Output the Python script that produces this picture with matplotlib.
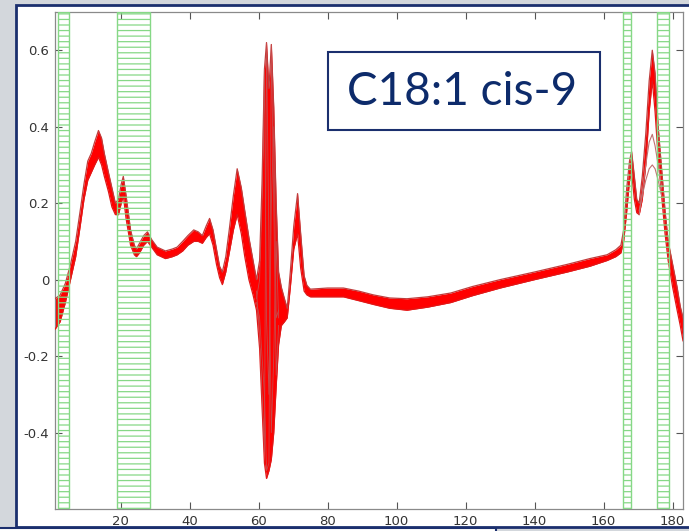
import matplotlib.pyplot as plt
from matplotlib.patches import Rectangle

# spectral bundle: lower / upper edge per variable index
x_pts = [1, 2.5, 4, 5.5, 7, 8.3, 9.4, 10.5, 11.5, 12.5, 13.6, 14.5, 15.3, 16.5, 17.5,
         18.5, 19.4, 20.2, 20.8, 21.6, 22.9, 24.0, 24.6, 25.5, 26.7, 27.8, 29, 30.6,
         33, 35, 36.4, 38, 39.5, 41.2, 42.5, 43.7, 44.8, 45.8, 46.8, 47.8, 48.7, 49.5,
         50.5, 51.5, 52.7, 53.8, 55, 56, 57.2, 58.4, 59.4, 60.3, 61, 61.7, 62.3, 63,
         63.7, 64.4, 65.1, 65.8, 66.6, 67.5, 68.3, 69.2, 70.2, 71.3, 72.2, 73.2, 74,
         75, 80, 84.6, 89, 93.3, 98, 103, 109, 115.7, 122, 130, 140, 149.5, 156, 161,
         163.5, 165, 165.8, 166.7, 167.5, 168.1, 168.9, 169.6, 170.3, 171.2, 172.2,
         173.2, 174.1, 174.9, 175.8, 176.8, 177.8, 178.7, 180, 181.3, 182.2, 183]
y_low = [-0.13, -0.11, -0.06, 0.0, 0.06, 0.14, 0.21, 0.26, 0.28, 0.30, 0.32, 0.30,
         0.27, 0.23, 0.19, 0.17, 0.17, 0.20, 0.22, 0.16, 0.09, 0.065, 0.06, 0.07,
         0.09, 0.10, 0.085, 0.065, 0.055, 0.06, 0.065, 0.075, 0.09, 0.10, 0.10,
         0.095, 0.11, 0.12, 0.09, 0.04, 0.005, -0.013, 0.02, 0.07, 0.13, 0.17, 0.12,
         0.06, 0.0, -0.04, -0.08, -0.18, -0.33, -0.48, -0.52, -0.50, -0.47, -0.40,
         -0.28, -0.17, -0.12, -0.11, -0.10, -0.02, 0.08, 0.12, 0.03, -0.03, -0.04,
         -0.045, -0.045, -0.045, -0.055, -0.065, -0.075, -0.08, -0.072, -0.06,
         -0.042, -0.022, 0.0, 0.02, 0.035, 0.05, 0.06, 0.07, 0.10, 0.18, 0.26, 0.28,
         0.21, 0.175, 0.17, 0.21, 0.30, 0.44, 0.52, 0.44, 0.32, 0.22, 0.12, 0.05,
         -0.02, -0.08, -0.12, -0.16]
y_high = [-0.05, -0.04, -0.01, 0.04, 0.10, 0.18, 0.25, 0.31, 0.33, 0.36, 0.39, 0.37,
          0.33, 0.28, 0.24, 0.20, 0.21, 0.25, 0.27, 0.22, 0.13, 0.09, 0.08, 0.095,
          0.115, 0.125, 0.105, 0.085, 0.075, 0.08, 0.085, 0.10, 0.115, 0.13, 0.125,
          0.115, 0.14, 0.16, 0.13, 0.08, 0.035, 0.02, 0.06, 0.13, 0.22, 0.29, 0.24,
          0.18, 0.11, 0.05, 0.0, 0.05, 0.25, 0.55, 0.62, 0.50, 0.615, 0.45, 0.20,
          0.02, -0.02, -0.05, -0.075, 0.02, 0.14, 0.225, 0.12, 0.01, -0.015, -0.025,
          -0.022, -0.022, -0.03, -0.04, -0.048, -0.05, -0.045, -0.035, -0.018, 0.0,
          0.02, 0.04, 0.055, 0.065, 0.078, 0.09, 0.13, 0.24, 0.31, 0.335, 0.27,
          0.21, 0.20, 0.27, 0.38, 0.52, 0.60, 0.54, 0.40, 0.29, 0.18, 0.10, 0.04,
          -0.02, -0.07, -0.10]

# a few individual spectra that stand out of the bundle
spike_x = [59.4, 60.3, 61, 61.7, 62.3, 63, 63.7, 64.4, 65.1, 65.8]
spike_a = [-0.05, 0.0, 0.20, 0.55, -0.10, -0.30, 0.20, 0.40, -0.10, -0.08]
spike_b = [-0.03, -0.15, -0.30, -0.45, 0.62, 0.10, -0.40, -0.20, 0.10, -0.10]
spike_c = [-0.06, -0.10, -0.20, -0.30, -0.50, -0.48, 0.615, 0.20, -0.25, -0.12]
peak_x = [170.3, 171.2, 172.2, 173.2, 174.1, 174.9, 175.8, 176.8]
peak_a = [0.18, 0.22, 0.26, 0.29, 0.30, 0.29, 0.26, 0.22]
peak_b = [0.17, 0.23, 0.30, 0.36, 0.38, 0.35, 0.30, 0.24]

band_start = [2, 19.1, 165.5, 175.6]
band_end = [5.2, 28.4, 168, 179]

xtick_vals = [20, 40, 60, 80, 100, 120, 140, 160, 180]
ytick_vals = [-0.4, -0.2, 0, 0.2, 0.4, 0.6]
ytick_labels = ['-0.4', '-0.2', '0', '0.2', '0.4', '0.6']

plt.rcParams['hatch.linewidth'] = 0.9
fig = plt.figure(figsize=(6.89, 5.31), dpi=100, facecolor='#d3d7dc')

# slide panel and the box peeking in at the bottom
fig.add_artist(Rectangle((0.0232, 0.0075), 1.0, 0.9831, transform=fig.transFigure,
                         facecolor='white', edgecolor='#1b2f6e', lw=2, zorder=0))
fig.add_artist(Rectangle((-0.01, -0.01), 0.73, 0.0156, transform=fig.transFigure,
                         facecolor='white', edgecolor='#1b2f6e', lw=1.5, zorder=0))

ax = fig.add_axes([0.0798, 0.0414, 0.9115, 0.936])
ax.set_facecolor('white')

ax.fill_between(x_pts, y_low, y_high, color='#ff0000', lw=0, zorder=2)
ax.plot(x_pts, y_low, color='#e01818', lw=0.9, zorder=3)
ax.plot(x_pts, y_high, color='#c03c3c', lw=0.9, zorder=3)
for tr in [spike_a, spike_b, spike_c]:
    ax.plot(spike_x, tr, color='#c84a4a', lw=0.6, zorder=3)
for tr in [peak_a, peak_b]:
    ax.plot(peak_x, tr, color='#c07070', lw=0.8, zorder=3)

for a, b in zip(band_start, band_end):
    ax.axvspan(a, b, facecolor='none', edgecolor='#86d886', hatch='---', lw=1, zorder=4)

ax.set_xlim(1, 183)
ax.set_ylim(-0.6, 0.7)
ax.set_xticks(xtick_vals)
ax.set_xticklabels([str(v) for v in xtick_vals])
ax.set_yticks(ytick_vals)
ax.set_yticklabels(ytick_labels)
ax.tick_params(direction='in', length=5, width=0.8, color='#555555',
               labelsize=9.5, labelcolor='#333333', top=True, right=True, pad=4)
for sp in ax.spines.values():
    sp.set_color('#8a8a8a')
    sp.set_linewidth(0.9)

# label box
fig.add_artist(Rectangle((0.476, 0.7552), 0.395, 0.1469, transform=fig.transFigure,
                         facecolor='white', edgecolor='#1b2f6e', lw=1.5, zorder=5))
fig.text(0.67, 0.8267, 'C18:1 cis-9', fontsize=33, color='#0d2b6b', family='Lato',
         ha='center', va='center', zorder=6)

fig.savefig('out.png', dpi=100, facecolor=fig.get_facecolor())
